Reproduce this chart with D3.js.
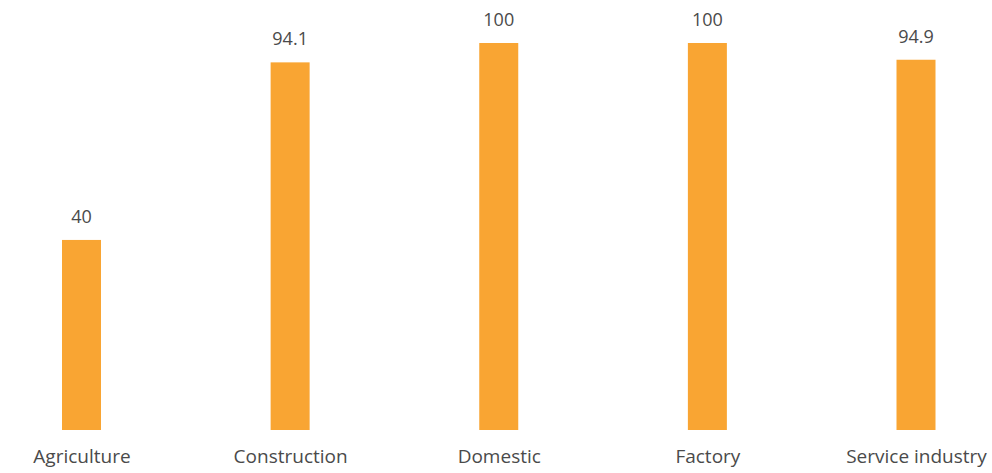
<!DOCTYPE html>
<html>
<head>
<meta charset="utf-8">
<script src="https://cdn.jsdelivr.net/npm/d3@7"></script>
<style>
html,body{margin:0;padding:0;background:#fff;}
svg{display:block;}
</style>
</head>
<body>
<svg id="chart" width="992" height="473"></svg>
<script>
const categories = ["Agriculture", "Construction", "Domestic", "Factory", "Service industry"];
const values = [40, 94.1, 100, 100, 94.9];
const valueLabels = ["40", "94.1", "100", "100", "94.9"];

const W = 992, H = 473;
const svg = d3.select("#chart");

const x = d3.scalePoint().domain(categories).range([81.5, 916]);
const y = d3.scaleLinear().domain([-17.9, 100]).range([430, 43]);
const barW = 39;
const data = categories.map((c, i) => ({c, v: values[i], label: valueLabels[i]}));

svg.selectAll("rect.bar").data(data).join("rect")
  .attr("class", "bar")
  .attr("x", d => x(d.c) - barW / 2)
  .attr("width", barW)
  .attr("y", d => y(d.v))
  .attr("height", d => y(-17.9) - y(d.v))
  .attr("fill", "#F9A533");

svg.selectAll("text.val").data(data).join("text")
  .attr("class", "val")
  .attr("x", d => x(d.c))
  .attr("y", d => y(d.v) - 17)
  .attr("text-anchor", "middle")
  .attr("font-family", "'Open Sans', sans-serif")
  .attr("font-size", 18)
  .attr("fill", "#4a4a4a")
  .text(d => d.label);

const xAxis = d3.axisBottom(x).tickSize(0).tickPadding(0);
const gx = svg.append("g").attr("transform", "translate(0,449)").call(xAxis);
gx.select(".domain").remove();
gx.selectAll("text")
  .attr("font-family", "'Open Sans', sans-serif")
  .attr("font-size", 19)
  .attr("fill", "#4a4a4a")
  .attr("dy", "0.71em");
</script>
</body>
</html>
